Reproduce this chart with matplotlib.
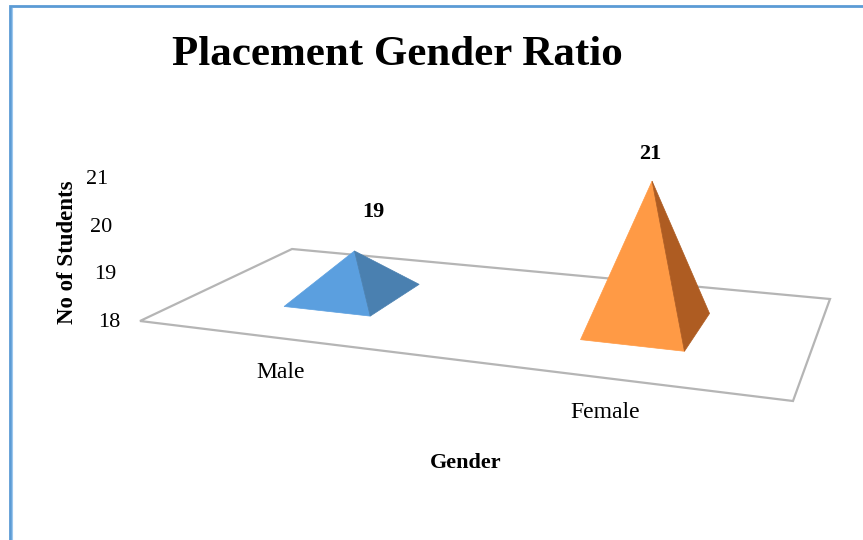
# Placement gender ratio, 3D pyramid chart drawn through a small floor projection
import matplotlib
matplotlib.use('Agg')
from matplotlib import pyplot as plt
from matplotlib.patches import Polygon
import numpy as np

categories = ['Male', 'Female']
values = [19, 21]
face_colors = ['#5B9FDF', '#FF9A45']
side_colors = ['#4A80B0', '#AE5C22']
y_ticks = [18, 19, 20, 21]

# floor corners in pixels, (front left, back left, back right, front right)
floor_px = np.array([[140, 321], [292, 249], [830, 299], [793, 401]], float)
floor_uv = np.array([[0, 0], [0, 1], [2, 1], [2, 0]], float)
half_w = 0.155
half_d = 0.2
base_shift = 0.005
base_value = 18


def solve_homography(src, dst):
    rows = []
    rhs = []
    for (u, v), (x, y) in zip(src, dst):
        rows.append([u, v, 1, 0, 0, 0, -u * x, -v * x])
        rows.append([0, 0, 0, u, v, 1, -u * y, -v * y])
        rhs += [x, y]
    return np.append(np.linalg.solve(np.array(rows), np.array(rhs)), 1).reshape(3, 3)


H = solve_homography(floor_uv, floor_px)


def project(u, v, value=base_value):
    p = H @ np.array([u, v, 1.0])
    x, y = p[0] / p[2], p[1] / p[2]
    # height scale grows a little towards the right side of the chart
    scale = 41.85 + 4.3 * u
    h = (value - base_value) * scale
    return x + (value - base_value) * 2.2, y - h


fig = plt.figure(figsize=(8.63, 5.4), dpi=100)
ax = fig.add_axes([0, 0, 1, 1])
ax.set_xlim(0, 863)
ax.set_ylim(540, 0)
ax.axis('off')

# outer frame, only top and left are in the crop
ax.plot([10, 10, 863], [540, 6, 6], color='#5B9BD5', lw=2, solid_joinstyle='miter')
ax.plot([11.5, 11.5], [540, 7.5], color='#9CC8EE', lw=0.8)

ax.add_patch(Polygon(floor_px, closed=True, fc='white', ec='#B5B5B5', lw=1.6, zorder=1))

for i, value in enumerate(values):
    uc = i + 0.5
    vc = 0.5
    top = project(uc, vc, value)
    left = project(uc + base_shift - half_w, vc - half_d)
    front = project(uc + base_shift + half_w, vc - half_d)
    right = project(uc + base_shift + half_w, vc + half_d)
    ax.add_patch(Polygon([left, front, top], fc=face_colors[i], ec=face_colors[i], lw=0.5, zorder=3))
    ax.add_patch(Polygon([front, right, top], fc=side_colors[i], ec=side_colors[i], lw=0.5, zorder=3))
    ax.text(top[0] + [19, -2][i], top[1] - [39, 27][i], str(value), ha='center', va='center',
            family='Liberation Serif', weight='bold', fontsize=16)

cat_pos = [(281, 372), (605, 412)]
for name, pos in zip(categories, cat_pos):
    ax.text(pos[0], pos[1], name, ha='center', va='center', family='Liberation Serif', fontsize=17)

# tick labels step left as they go up the slanted wall
for t in y_ticks:
    ax.text(120 - (t - base_value) * 4, 321 - (t - base_value) * 47.7 + 1.5, str(t), ha='right', va='center',
            family='Liberation Serif', fontsize=16)

ax.text(397, 55, 'Placement Gender Ratio', ha='center', va='center', family='Liberation Serif',
        weight='bold', fontsize=31)
ax.text(67, 252, 'No of Students', rotation=90, ha='center', va='center', family='Liberation Serif',
        weight='bold', fontsize=16.5)
ax.text(466, 463, 'Gender', ha='center', va='center', family='Liberation Serif', weight='bold', fontsize=16)

plt.savefig('out.png', dpi=100)
